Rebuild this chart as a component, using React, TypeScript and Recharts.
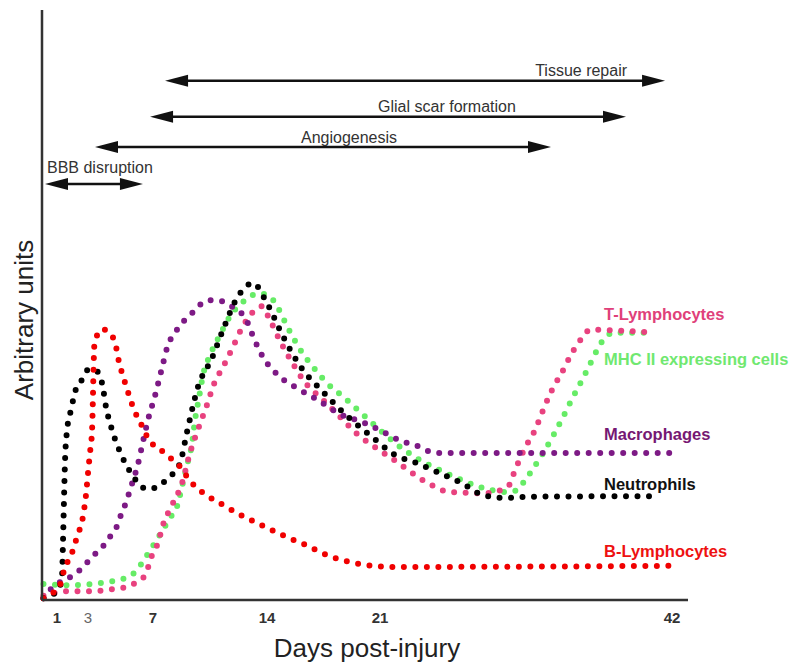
import React from "react";
import { LineChart, Line, XAxis, YAxis, ReferenceLine, ReferenceDot } from "recharts";

const FONT = '"Liberation Sans", Arial, Helvetica, sans-serif';

// tick labels on the x axis (days post-injury)
const dayTicks = [1, 3, 7, 14, 21, 42];

// the original x axis is not linear (21 -> 42 is squeezed),
// so days are spread over the axis through these breakpoints
const axisDays = [0, 1, 3, 7, 14, 21, 42, 43.15];
const axisSpan = [0, 15, 46, 111, 225, 338, 630, 646];

function dayToAxis(d: number) {
  for (let i = 1; i < axisDays.length; i++) {
    if (d <= axisDays[i]) {
      const t = (d - axisDays[i - 1]) / (axisDays[i] - axisDays[i - 1]);
      return axisSpan[i - 1] + t * (axisSpan[i] - axisSpan[i - 1]);
    }
  }
  return axisSpan[axisSpan.length - 1];
}

// [day, arbitrary units 0-100]
const neutrophils = [
  [0.1, 0.3], [1.06, 1.7], [1.32, 3.9], [1.39, 10.2], [1.45, 16.9], [1.52, 23.7],
  [1.65, 28.8], [1.9, 32.2], [2.23, 35.8], [2.61, 37.3], [3.0, 39.0], [3.43, 39.0],
  [3.86, 36.8], [4.11, 32.7], [4.48, 28.8], [4.97, 25.1], [5.65, 21.5], [6.63, 18.8],
  [7.31, 19.2], [7.86, 20.5], [8.66, 23.2], [9.09, 28.5], [9.76, 36.1], [10.62, 41.0],
  [11.3, 45.8], [12.16, 51.2], [13.14, 53.7], [14.0, 50.3], [14.99, 44.7], [16.04, 39.7],
  [17.46, 35.3], [18.95, 31.2], [20.57, 27.5], [22.0, 24.7], [23.66, 23.2], [25.3, 21.5],
  [26.9, 19.8], [28.4, 17.8], [30.06, 17.3], [31.8, 17.5], [40.56, 17.6],
];

const bLymphocytes = [
  [0.1, 0.3], [0.73, 1.2], [1.19, 2.5], [1.52, 5.6], [1.9, 7.5], [2.29, 10.7],
  [2.68, 14.2], [2.87, 17.8], [3.0, 21.5], [3.12, 24.9], [3.25, 28.8], [3.3, 33.9],
  [3.34, 39.0], [3.4, 43.5], [3.86, 45.9], [4.6, 44.2], [4.91, 40.3], [5.34, 36.3],
  [5.77, 32.7], [6.38, 29.2], [6.82, 26.8], [7.31, 25.9], [7.8, 24.6], [8.47, 23.2],
  [9.39, 19.8], [10.01, 18.3], [11.3, 16.1], [12.53, 14.2], [13.82, 12.5], [15.12, 10.8],
  [16.42, 9.3], [17.72, 7.6], [19.2, 6.4], [20.57, 5.8], [22.29, 5.6], [42.14, 5.8],
];

const macrophages = [
  [0.1, 0.3], [0.53, 1.7], [2.03, 4.2], [2.61, 5.4], [3.12, 6.9], [3.55, 8.1],
  [4.05, 9.5], [4.42, 11.0], [4.78, 12.5], [5.0, 14.2], [5.28, 16.1], [5.71, 19.7],
  [6.08, 23.1], [6.38, 26.8], [6.69, 30.5], [7.12, 34.6], [7.55, 39.3], [7.86, 42.7],
  [8.47, 45.8], [9.39, 48.6], [10.38, 50.8], [11.11, 50.7], [11.85, 49.7], [12.46, 48.5],
  [12.83, 46.9], [13.14, 44.7], [13.75, 41.2], [14.68, 38.1], [15.86, 35.9], [17.16, 33.9],
  [18.52, 31.5], [19.88, 30.2], [21.22, 28.5], [22.65, 26.8], [23.52, 26.3], [24.38, 25.3],
  [25.17, 24.9], [42.57, 24.9],
];

const mhcII = [
  [0.1, 2.7], [1.71, 2.5], [3.25, 2.7], [4.54, 3.2], [5.28, 3.7], [5.89, 4.7],
  [6.63, 7.6], [7.12, 9.7], [7.61, 11.9], [8.04, 13.9], [8.47, 15.8], [8.78, 19.2],
  [9.09, 22.9], [9.39, 26.4], [9.58, 30.5], [9.82, 34.2], [10.07, 38.1], [10.5, 41.5],
  [11.05, 44.6], [11.73, 48.1], [12.65, 50.8], [13.51, 52.0], [14.19, 51.4], [14.62, 49.8],
  [15.3, 46.1], [16.04, 42.5], [16.85, 39.5], [17.78, 36.6], [18.83, 34.2], [19.95, 31.4],
  [21.0, 28.8], [22.37, 26.1], [23.73, 23.9], [25.32, 22.0], [26.9, 20.3], [28.41, 19.0],
  [30.06, 18.3], [30.85, 18.6], [31.28, 19.8], [31.79, 21.5], [32.65, 24.6], [33.44, 27.8],
  [34.16, 31.0], [34.88, 34.4], [35.6, 37.6], [36.32, 41.0], [36.68, 42.7], [37.25, 44.6],
  [37.76, 45.3], [40.2, 45.3],
];

const tLymphocytes = [
  [0.1, 0.7], [1.71, 1.5], [3.25, 1.5], [4.66, 1.9], [5.4, 2.2], [6.02, 3.1],
  [6.51, 4.2], [6.94, 7.6], [7.31, 9.7], [7.61, 12.7], [8.17, 16.1], [8.78, 19.8],
  [9.27, 24.9], [9.88, 29.8], [10.32, 33.1], [10.74, 36.6], [11.3, 39.5], [11.91, 42.9],
  [12.46, 46.1], [13.2, 49.0], [13.69, 49.8], [14.12, 47.8], [14.81, 43.9], [15.55, 40.3],
  [16.35, 36.9], [17.35, 34.2], [18.4, 31.4], [19.51, 28.3], [20.75, 25.8], [22.22, 23.4],
  [24.31, 20.0], [26.03, 18.3], [28.55, 18.1], [30.2, 19.2], [30.71, 22.0], [31.43, 25.8],
  [32.15, 28.8], [32.73, 32.2], [33.37, 35.6], [34.09, 38.6], [34.81, 41.9], [35.6, 44.6],
  [36.1, 45.8], [40.06, 45.4],
];

const seriesNames = ["MHC II expressing cells", "T-Lymphocytes", "Macrophages", "Neutrophils", "B-Lymphocytes"];
const seriesData = [mhcII, tLymphocytes, macrophages, neutrophils, bLymphocytes];
const lineColors = ["#66ec66", "#e8427f", "#7d1a85", "#000000", "#f00000"];
const labelColors = ["#70e870", "#e0407a", "#761873", "#111111", "#ee1111"];
// where each series name sits: [day, units]
const labelSpots = [
  [37.11, 39.8], [37.11, 47.5], [37.11, 27.1], [37.11, 18.6], [37.11, 7.3],
];

// phases of the response, drawn as double arrows: [from day, to day, level]
const phaseNames = ["Tissue repair", "Glial scar formation", "Angiogenesis", "BBB disruption"];
const phaseSpans = [
  [7.74, 41.5, 88.0], [6.82, 38.69, 81.9], [3.43, 33.3, 76.8], [0.2, 6.38, 70.5],
];
// text placement relative to the arrow (px)
const phaseText = [
  { from: "x2", dx: -38, dy: -5, anchor: "end" },
  { from: "x1", dx: 228, dy: -5, anchor: "start" },
  { from: "x1", dx: 206, dy: -4, anchor: "start" },
  { from: "x1", dx: 2, dy: -11, anchor: "start" },
];

const toRows = (pts: number[][]) => pts.map(([d, v]) => ({ x: dayToAxis(d), v }));

function arrowShape(name: string, place: any) {
  return (p: any) => {
    const { x1, y1, x2 } = p;
    const head = 23;
    const half = 6;
    const tx = (place.from === "x1" ? x1 : x2) + place.dx;
    return (
      <g>
        <line x1={x1 + head - 2} y1={y1} x2={x2 - head + 2} y2={y1} stroke="#111" strokeWidth={2.5} />
        <polygon points={`${x1},${y1} ${x1 + head},${y1 - half} ${x1 + head},${y1 + half}`} fill="#111" />
        <polygon points={`${x2},${y1} ${x2 - head},${y1 - half} ${x2 - head},${y1 + half}`} fill="#111" />
        <text x={tx} y={y1 + place.dy} textAnchor={place.anchor} fontFamily={FONT} fontSize={16} fill="#333">
          {name}
        </text>
      </g>
    );
  };
}

function DayTick(props: any) {
  const { x, y, payload } = props;
  const i = dayTicks.findIndex((d) => Math.abs(dayToAxis(d) - payload.value) < 0.01);
  const label = i >= 0 ? dayTicks[i] : "";
  const faint = label === 3;
  return (
    <text
      x={x}
      y={y + 15}
      textAnchor="middle"
      fontFamily={FONT}
      fontSize={15}
      fontWeight={faint ? 400 : 700}
      fill={faint ? "#666" : "#333"}
    >
      {label}
    </text>
  );
}

export default function App() {
  return (
    <div style={{ position: "absolute", left: 0, top: 0, background: "#fff" }}>
      <LineChart width={800} height={672} margin={{ top: 10, right: 112, bottom: 0, left: 0 }}>
        <XAxis
          type="number"
          dataKey="x"
          domain={[0, axisSpan[axisSpan.length - 1]]}
          ticks={dayTicks.map(dayToAxis)}
          tick={<DayTick />}
          tickLine={false}
          height={72}
          axisLine={{ stroke: "#333", strokeWidth: 2.5 }}
          label={(p: any) => {
            const vb = p.viewBox;
            return (
              <text x={vb.x + vb.width / 2 + 2} y={vb.y + 57} textAnchor="middle" fontFamily={FONT} fontSize={26} fill="#222">
                Days post-injury
              </text>
            );
          }}
        />
        <YAxis
          type="number"
          domain={[0, 100]}
          width={42}
          tick={false}
          tickLine={false}
          axisLine={{ stroke: "#333", strokeWidth: 2.5 }}
          label={(p: any) => {
            const vb = p.viewBox;
            const cx = vb.x + vb.width - 9;
            const cy = vb.y + vb.height / 2 + 15;
            return (
              <text x={cx} y={cy} transform={`rotate(-90, ${cx}, ${cy})`} textAnchor="middle" fontFamily={FONT} fontSize={26} fill="#222">
                Arbitrary units
              </text>
            );
          }}
        />
        {phaseNames.map((name, i) => (
          <ReferenceLine
            key={name}
            ifOverflow="visible"
            segment={[
              { x: dayToAxis(phaseSpans[i][0]), y: phaseSpans[i][2] },
              { x: dayToAxis(phaseSpans[i][1]), y: phaseSpans[i][2] },
            ]}
            shape={arrowShape(name, phaseText[i])}
          />
        ))}
        {seriesNames.map((name, i) => (
          <Line
            key={name}
            name={name}
            data={toRows(seriesData[i])}
            dataKey="v"
            type="monotone"
            stroke={lineColors[i]}
            strokeWidth={6}
            strokeDasharray="0 11.5"
            strokeLinecap="round"
            dot={false}
            activeDot={false}
            isAnimationActive={false}
          />
        ))}
        {seriesNames.map((name, i) => (
          <ReferenceDot
            key={"lbl-" + name}
            x={dayToAxis(labelSpots[i][0])}
            y={labelSpots[i][1]}
            r={0}
            ifOverflow="visible"
            shape={(p: any) => (
              <text x={p.cx} y={p.cy} fontFamily={FONT} fontSize={16.5} fontWeight={700} fill={labelColors[i]}>
                {name}
              </text>
            )}
          />
        ))}
      </LineChart>
    </div>
  );
}
